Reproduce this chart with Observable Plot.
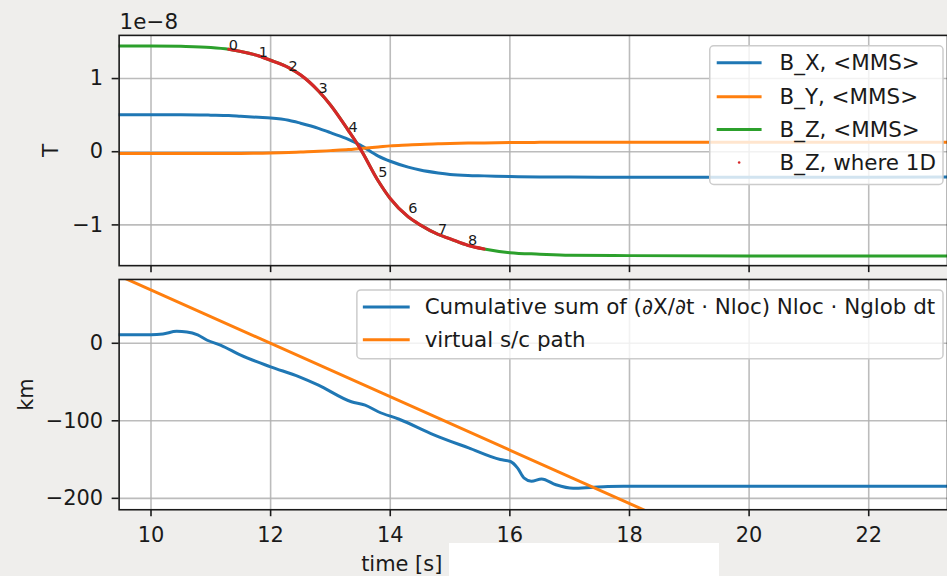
<!DOCTYPE html>
<html>
<head>
<meta charset="utf-8">
<script src="https://cdn.jsdelivr.net/npm/d3@7"></script>
<script src="https://cdn.jsdelivr.net/npm/@observablehq/plot@0.6"></script>
<style>
  html, body { margin: 0; padding: 0; }
  body {
    width: 947px; height: 576px; overflow: hidden; position: relative;
    background: #efeeec; font-family: "DejaVu Sans", sans-serif;
  }
  #upper, #lower { position: absolute; left: 0; }
  #upper { top: 0; }
  #lower { top: 270px; }
  #blank { position: absolute; left: 449px; top: 543px; width: 270px; height: 33px; background: #fff; }
</style>
</head>
<body>
<div id="upper"></div>
<div id="lower"></div>
<div id="blank"></div>
<script>
// Shared time axis (seconds)
const xTicks = [10, 12, 14, 16, 18, 20, 22];

// Upper panel: field components averaged over MMS, in units of 1e-8 T
const fieldTime = [9.4, 10, 10.5, 11, 11.3, 11.5, 11.8, 12, 12.3, 12.5, 12.8, 13, 13.3, 13.5, 13.8,
                   14, 14.3, 14.5, 14.8, 15, 15.3, 15.57, 16, 16.5, 17, 18, 20, 22, 23.4];
const bxMMS = [0.505, 0.505, 0.505, 0.50, 0.495, 0.485, 0.47, 0.46, 0.43, 0.39, 0.32, 0.26, 0.17, 0.09, -0.06,
               -0.13, -0.21, -0.25, -0.29, -0.31, -0.325, -0.33, -0.34, -0.345, -0.345, -0.35, -0.35, -0.35, -0.345];
const byMMS = [-0.025, -0.025, -0.025, -0.025, -0.024, -0.023, -0.02, -0.018, -0.012, -0.005, 0.005, 0.015, 0.03, 0.045, 0.065,
               0.08, 0.092, 0.10, 0.108, 0.113, 0.118, 0.12, 0.125, 0.128, 0.13, 0.13, 0.13, 0.13, 0.13];
const bzMMS = [1.445, 1.445, 1.44, 1.425, 1.40, 1.37, 1.31, 1.25, 1.15, 1.05, 0.83, 0.64, 0.29, 0.04, -0.40,
               -0.64, -0.89, -1.00, -1.13, -1.19, -1.28, -1.33, -1.38, -1.40, -1.415, -1.42, -1.425, -1.425, -1.425];
// interval where the structure is treated as one-dimensional
const oneDStart = 11.3, oneDEnd = 15.57;
// sample indices marked along B_Z
const indexTime = [11.3, 11.8, 12.3, 12.8, 13.3, 13.8, 14.3, 14.8, 15.3];
const indexValue = [1.386, 1.30, 1.11, 0.80, 0.27, -0.345, -0.835, -1.12, -1.27];
const fieldTicks = [-1, 0, 1];

// Lower panel: reconstructed position (km)
const sumTime = [9.4, 10, 10.2, 10.43, 10.6, 10.78, 10.94, 11.17, 11.5, 12, 12.48, 12.8, 13.35, 13.58, 13.8,
                 14.15, 14.73, 15.31, 15.84, 16.01, 16.13, 16.24, 16.36, 16.53, 16.77, 17.06, 17.35, 17.64, 17.9, 20, 23.4];
const sumKm = [11, 11, 12, 15.4, 14.6, 10.8, 3.9, -2.6, -15.4, -30.4, -43.3, -54, -75.4, -79.7, -88.3,
               -98, -118, -135, -150, -152.5, -161, -174, -178, -175, -182.5, -187, -186, -184.7, -184.3, -184.4, -184.5];
const pathTime = [9.47, 18.3];
const pathKm = [87, -217];
const kmTicks = [-200, -100, 0];

const C = {blue: "#1f77b4", orange: "#ff7f0e", green: "#2ca02c", red: "#d62728"};
const field = fieldTime.map((t, i) => ({t, bx: bxMMS[i], by: byMMS[i], bz: bzMMS[i]}));
const oneD = field.filter(d => d.t >= oneDStart && d.t <= oneDEnd);
const indices = indexTime.map((t, i) => ({t, v: indexValue[i], label: String(i)}));
const cumul = sumTime.map((t, i) => ({t, km: sumKm[i]}));
const path = pathTime.map((t, i) => ({t, km: pathKm[i]}));

const xDomain = [9.467, 23.317];
const gridStyle = {stroke: "#b0b0b0", strokeOpacity: 0.85, strokeWidth: 1.6};
const lineW = 3;
const FS = 21;        // tick and axis-title size
const LFS = 21.5;     // legend size
const base = {
  width: 950, marginLeft: 119, marginRight: 0,
  style: {fontFamily: "DejaVu Sans", fontSize: FS + "px", color: "#1a1a1a", background: "transparent", overflow: "visible"}
};
const fmt = d3.format("d");

const upper = Plot.plot({
  ...base, height: 280, marginTop: 35, marginBottom: 14,
  x: {domain: xDomain},
  y: {domain: [-1.557, 1.590]},
  marks: [
    Plot.frame({fill: "white"}),
    Plot.gridX(xTicks, gridStyle),
    Plot.gridY(fieldTicks, gridStyle),
    Plot.line(field, {x: "t", y: "bx", stroke: C.blue, strokeWidth: lineW, curve: "monotone-x", clip: true}),
    Plot.line(field, {x: "t", y: "by", stroke: C.orange, strokeWidth: lineW, curve: "monotone-x", clip: true}),
    Plot.line(field, {x: "t", y: "bz", stroke: C.green, strokeWidth: lineW, curve: "monotone-x", clip: true}),
    Plot.line(oneD, {x: "t", y: "bz", stroke: C.red, strokeWidth: 3.2, curve: "monotone-x"}),
    Plot.text(indices, {x: "t", y: "v", text: "label", textAnchor: "start", lineAnchor: "bottom", fontSize: 14.5, fill: "#1a1a1a"}),
    Plot.axisX(xTicks, {tickSize: 7, strokeWidth: 1.6, tickFormat: () => "", label: null}),
    Plot.axisY(fieldTicks, {tickSize: 7, tickPadding: 9, strokeWidth: 1.6, tickFormat: fmt, label: null}),
    Plot.frame({stroke: "#1a1a1a", strokeWidth: 1.6})
  ]
});

const lower = Plot.plot({
  ...base, height: 306, marginTop: 9, marginBottom: 66,
  x: {domain: xDomain},
  y: {domain: [-214.7, 82.3]},
  marks: [
    Plot.frame({fill: "white"}),
    Plot.gridX(xTicks, gridStyle),
    Plot.gridY(kmTicks, gridStyle),
    Plot.line(cumul, {x: "t", y: "km", stroke: C.blue, strokeWidth: lineW, curve: "monotone-x", clip: true}),
    Plot.line(path, {x: "t", y: "km", stroke: C.orange, strokeWidth: lineW, clip: true}),
    Plot.axisX(xTicks, {tickSize: 7, tickPadding: 10, strokeWidth: 1.6, tickFormat: fmt, label: null}),
    Plot.axisY(kmTicks, {tickSize: 7, tickPadding: 9, strokeWidth: 1.6, tickFormat: fmt, label: null}),
    Plot.frame({stroke: "#1a1a1a", strokeWidth: 1.6})
  ]
});

document.getElementById("upper").append(upper);
document.getElementById("lower").append(lower);

// Legend boxes and axis titles
function legend(svg, box, rows) {
  const g = d3.select(svg).append("g")
    .attr("font-family", "DejaVu Sans").attr("font-size", LFS).attr("text-anchor", "start");
  g.append("rect").attr("x", box.x).attr("y", box.y).attr("width", box.w).attr("height", box.h)
    .attr("rx", 4).attr("fill", "white").attr("fill-opacity", 0.8)
    .attr("stroke", "#cccccc").attr("stroke-width", 1.5);
  for (const r of rows) {
    if (r.dot) {
      g.append("circle").attr("cx", (box.lx0 + box.lx1) / 2).attr("cy", r.y).attr("r", 1.3).attr("fill", r.color);
    } else {
      g.append("line").attr("x1", box.lx0).attr("x2", box.lx1).attr("y1", r.y).attr("y2", r.y)
        .attr("stroke", r.color).attr("stroke-width", lineW);
    }
    g.append("text").attr("x", box.tx).attr("y", r.y + 7.5).attr("fill", "#1a1a1a").text(r.text);
  }
}

legend(upper, {x: 712, y: 46, w: 234, h: 139, lx0: 719, lx1: 764, tx: 782}, [
  {y: 63, color: C.blue, text: "B_X, <MMS>"},
  {y: 97, color: C.orange, text: "B_Y, <MMS>"},
  {y: 130, color: C.green, text: "B_Z, <MMS>"},
  {y: 163, color: C.red, text: "B_Z, where 1D", dot: true}
]);
legend(lower, {x: 358, y: 20, w: 588, h: 69, lx0: 364, lx1: 411, tx: 426}, [
  {y: 37, color: C.blue, text: "Cumulative sum of (∂X/∂t · Nloc) Nloc · Nglob dt"},
  {y: 70, color: C.orange, text: "virtual s/c path"}
]);

const up = d3.select(upper).append("g").attr("font-family", "DejaVu Sans").attr("font-size", LFS).attr("fill", "#1a1a1a");
up.append("text").attr("x", 120).attr("y", 29).attr("text-anchor", "start").text("1e\u22128");
up.append("text").attr("transform", "translate(58,151) rotate(-90)").attr("text-anchor", "middle").text("T");

const lo = d3.select(lower).append("g").attr("font-family", "DejaVu Sans").attr("font-size", FS).attr("fill", "#1a1a1a");
lo.append("text").attr("transform", "translate(33,125) rotate(-90)").attr("text-anchor", "middle").text("km");
lo.append("text").attr("x", 403).attr("y", 302).attr("text-anchor", "middle").text("time [s]");
</script>
</body>
</html>
